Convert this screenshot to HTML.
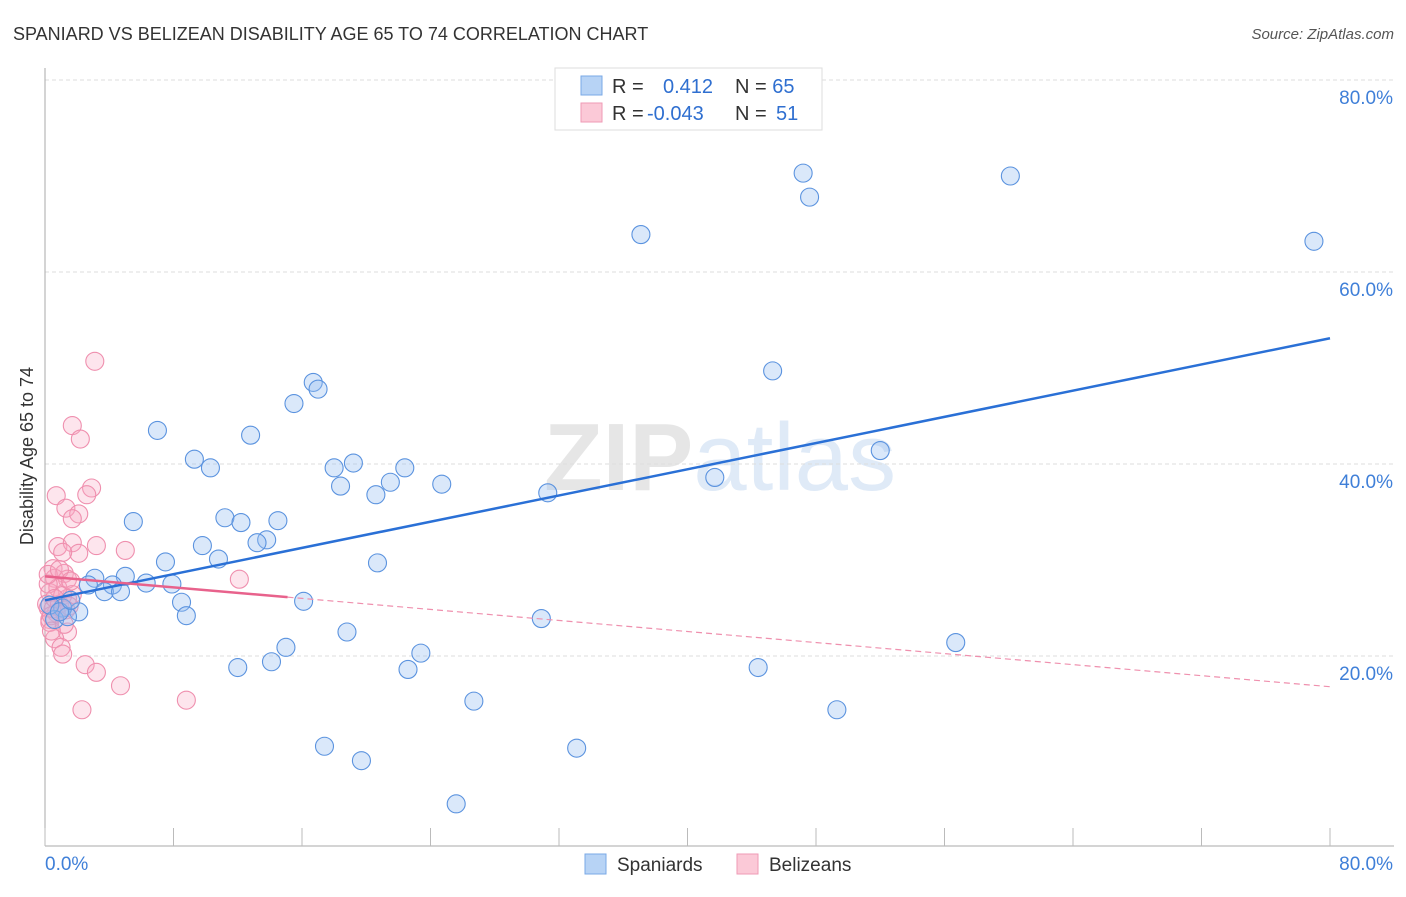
<!DOCTYPE html>
<html><head><meta charset="utf-8"><style>
body{margin:0;background:#fff;font-family:"Liberation Sans",sans-serif;}
svg text{font-family:"Liberation Sans",sans-serif;}
</style></head><body>
<svg id="chart" width="1406" height="892" xmlns="http://www.w3.org/2000/svg">
<text x="13" y="40" font-size="18" fill="#333">SPANIARD VS BELIZEAN DISABILITY AGE 65 TO 74 CORRELATION CHART</text>
<text x="1394" y="39" font-size="15" fill="#555" text-anchor="end" font-style="italic">Source: ZipAtlas.com</text>
<text x="720" y="490" font-size="96" text-anchor="middle" fill="#ebebeb" font-family="Liberation Serif"><tspan font-weight="bold" fill="#e6e6e6">ZIP</tspan><tspan fill="#dfeaf7" font-family="Liberation Sans">atlas</tspan></text>
<g id="grid"></g>
<g id="axes"></g>
<g id="pts"></g>
<g id="trends"></g>
<text transform="translate(33,456) rotate(-90)" font-size="18" fill="#333" text-anchor="middle">Disability Age 65 to 74</text>
<g>
<rect x="555" y="68" width="267" height="62" fill="#fff" stroke="#ddd"/>
<rect x="581" y="76" width="21" height="19" fill="#b7d3f5" stroke="#7aa8e6"/>
<rect x="581" y="103" width="21" height="19" fill="#fbc9d7" stroke="#ef9ab5"/>
<text x="612" y="93" font-size="20" fill="#333">R = <tspan fill="#2f6fd0" x="663">0.412</tspan><tspan x="735" fill="#333">N = </tspan><tspan fill="#2f6fd0">65</tspan></text>
<text x="612" y="120" font-size="20" fill="#333">R = <tspan fill="#2f6fd0" x="647">-0.043</tspan><tspan x="735" fill="#333">N = </tspan><tspan fill="#2f6fd0" x="776">51</tspan></text>
</g>
<g>
<rect x="585" y="854" width="21" height="20" fill="#b7d3f5" stroke="#7aa8e6"/>
<text x="617" y="871" font-size="19" fill="#333">Spaniards</text>
<rect x="737" y="854" width="21" height="20" fill="#fbc9d7" stroke="#ef9ab5"/>
<text x="769" y="871" font-size="19" fill="#333">Belizeans</text>
</g>
</svg>
<script>
const yTicks=[20,40,60,80];
const yTickLabels=["20.0%","40.0%","60.0%","80.0%"];
const xTickLabels=["0.0%","80.0%"];
const blueX=[47.2,47.6,60.1,37.1,79.0,45.3,52.0,41.7,31.3,16.7,17.0,15.5,7.0,12.8,9.3,10.3,18.0,19.2,22.4,21.5,24.7,18.4,20.6,5.5,11.2,12.2,14.5,13.8,13.2,9.8,10.8,7.5,20.7,3.1,5.0,4.2,6.3,7.9,2.7,3.7,4.7,8.5,16.1,8.8,2.1,1.1,0.6,1.4,30.9,18.8,15.0,56.7,23.4,14.1,12.0,22.6,44.4,26.7,49.3,17.4,33.1,19.7,25.6,0.3,0.9,1.6];
const blueY=[70.3,67.8,70.0,63.9,63.2,49.7,41.4,38.6,37.0,48.5,47.8,46.3,43.5,43.0,40.5,39.6,39.6,40.1,39.6,38.1,37.9,37.7,36.8,34.0,34.4,33.9,34.1,32.1,31.8,31.5,30.1,29.8,29.7,28.1,28.3,27.4,27.6,27.5,27.4,26.7,26.7,25.6,25.7,24.2,24.6,25.0,23.8,24.1,23.9,22.5,20.9,21.4,20.3,19.4,18.8,18.6,18.8,15.3,14.4,10.6,10.4,9.1,4.6,25.3,24.6,25.8];
const pinkX=[3.1,1.7,2.2,0.7,2.9,2.6,1.3,2.1,1.7,0.8,1.7,2.1,3.2,5.0,1.1,0.5,1.2,0.6,1.4,12.1,1.7,1.4,0.3,0.2,0.7,0.3,1.4,0.6,1.0,1.1,2.5,3.2,4.7,8.8,2.3,0.1,0.5,0.9,0.3,0.8,1.1,0.2,1.5,0.4,1.3,0.6,0.2,0.9,1.6,0.4,1.2];
const pinkY=[50.7,44.0,42.6,36.7,37.5,36.8,35.4,34.8,34.3,31.4,31.8,30.7,31.5,31.0,30.8,29.1,28.6,28.1,28.0,28.0,26.4,26.0,26.6,25.0,24.5,23.8,22.5,21.8,20.9,20.2,19.1,18.3,16.9,15.4,14.4,25.4,24.9,25.4,23.5,27.1,26.3,27.5,25.2,24.2,24.8,26.0,28.5,29.0,27.8,22.6,23.3];
const blueTrend=[25.8,53.1];
const pinkTrend=[28.3,16.8];
const pinkSolidEnd=15.1;

const NS="http://www.w3.org/2000/svg";
const X=v=>45+v*(1285/80);
const Y=v=>80+(80-v)*9.6;
function mk(tag,attrs,parent){const e=document.createElementNS(NS,tag);for(const k in attrs)e.setAttribute(k,attrs[k]);parent.appendChild(e);return e;}
const grid=document.getElementById('grid'),axes=document.getElementById('axes'),pts=document.getElementById('pts'),tr=document.getElementById('trends');
yTicks.forEach((t,i)=>{
 const l=mk('line',{x1:45,x2:1394,y1:Y(t),y2:Y(t),stroke:'#ddd','stroke-dasharray':'4,3'},grid);
 
 
 const tx=mk('text',{x:1393,y:Y(t)+24,'font-size':19,fill:'#3f7fd8','text-anchor':'end'},axes);
 tx.textContent=yTickLabels[i];
 
 
});
mk('line',{x1:45,x2:45,y1:68,y2:846,stroke:'#aaa'},axes);
mk('line',{x1:45,x2:1394,y1:846,y2:846,stroke:'#aaa'},axes);
for(let i=0;i<=10;i++){const x=X(i*8);const t=mk('line',{x1:x,x2:x,y1:828,y2:846,stroke:'#bbb'},axes);
 
 }
const xl0=mk('text',{x:45,y:870,'font-size':19,fill:'#3f7fd8'},axes);xl0.textContent=xTickLabels[0];


const xl1=mk('text',{x:1393,y:870,'font-size':19,fill:'#3f7fd8','text-anchor':'end'},axes);xl1.textContent=xTickLabels[1];


pinkX.forEach((v,i)=>{const c=mk('circle',{cx:X(v),cy:Y(pinkY[i]),r:9,fill:'rgba(248,170,195,0.3)',stroke:'#ef8fae','stroke-width':1.1},pts);
 
 });
blueX.forEach((v,i)=>{const c=mk('circle',{cx:X(v),cy:Y(blueY[i]),r:9,fill:'rgba(150,190,240,0.35)',stroke:'#5b93df','stroke-width':1.1},pts);
 
 });
const pAt=x=>pinkTrend[0]+(pinkTrend[1]-pinkTrend[0])*x/80;
const bl=mk('line',{x1:X(0),y1:Y(blueTrend[0]),x2:X(80),y2:Y(blueTrend[1]),stroke:'#2a70d6','stroke-width':2.5},tr);


const ps=mk('line',{x1:X(0),y1:Y(pAt(0)),x2:X(pinkSolidEnd),y2:Y(pAt(pinkSolidEnd)),stroke:'#e8628c','stroke-width':2.5},tr);


const pd=mk('line',{x1:X(pinkSolidEnd),y1:Y(pAt(pinkSolidEnd)),x2:X(80),y2:Y(pAt(80)),stroke:'#ef90ae','stroke-width':1.2,'stroke-dasharray':'6,4'},tr);


</script>
</body></html>
